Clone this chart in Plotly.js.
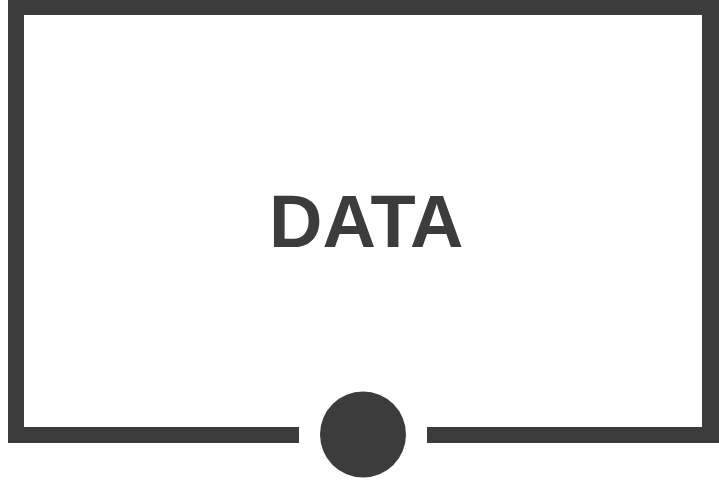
<!DOCTYPE html>
<html>
<head>
<meta charset="utf-8">
<script src="https://cdn.plot.ly/plotly-3.0.1.min.js"></script>
<style>html,body{margin:0;padding:0;background:#fff;}#chart{width:719px;height:482px;}</style>
</head>
<body>
<div id="chart"></div>
<script>
// Icon content (pixel-space coordinates on a 719x482 canvas)
const labelText = ["DATA"];
const labelPos = [366, 221];
// frame bars: [x0, y0, x1, y1]
const frameBars = [
  [8, -5, 24, 443],     // left
  [8, -5, 725, 15],     // top
  [702, -5, 725, 443],  // right
  [8, 427, 299, 443],   // bottom left segment
  [427, 427, 725, 443]  // bottom right segment
];
const dotBox = [320, 391.5, 406, 477.5];
const ink = "#3c3c3c";

const shapes = frameBars.map(b => ({
  type: "rect", xref: "x", yref: "y",
  x0: b[0], y0: b[1], x1: b[2], y1: b[3],
  fillcolor: ink, line: {width: 0}, layer: "above"
}));
shapes.push({
  type: "circle", xref: "x", yref: "y",
  x0: dotBox[0], y0: dotBox[1], x1: dotBox[2], y1: dotBox[3],
  fillcolor: ink, line: {width: 0}, layer: "above"
});

const layout = {
  width: 719, height: 482,
  margin: {l: 0, r: 0, t: 0, b: 0, pad: 0},
  paper_bgcolor: "#ffffff", plot_bgcolor: "#ffffff",
  showlegend: false,
  xaxis: {range: [0, 719], visible: false, fixedrange: true},
  yaxis: {range: [482, 0], visible: false, fixedrange: true},
  shapes: shapes,
  annotations: [{
    x: labelPos[0], y: labelPos[1], xref: "x", yref: "y",
    text: labelText[0], showarrow: false,
    xanchor: "center", yanchor: "middle",
    font: {family: "Liberation Sans", size: 74, weight: 700, color: ink}
  }]
};

Plotly.newPlot("chart", [{x: [], y: [], type: "scatter", mode: "markers", hoverinfo: "skip"}], layout, {displayModeBar: false, staticPlot: true});
</script>
</body>
</html>
